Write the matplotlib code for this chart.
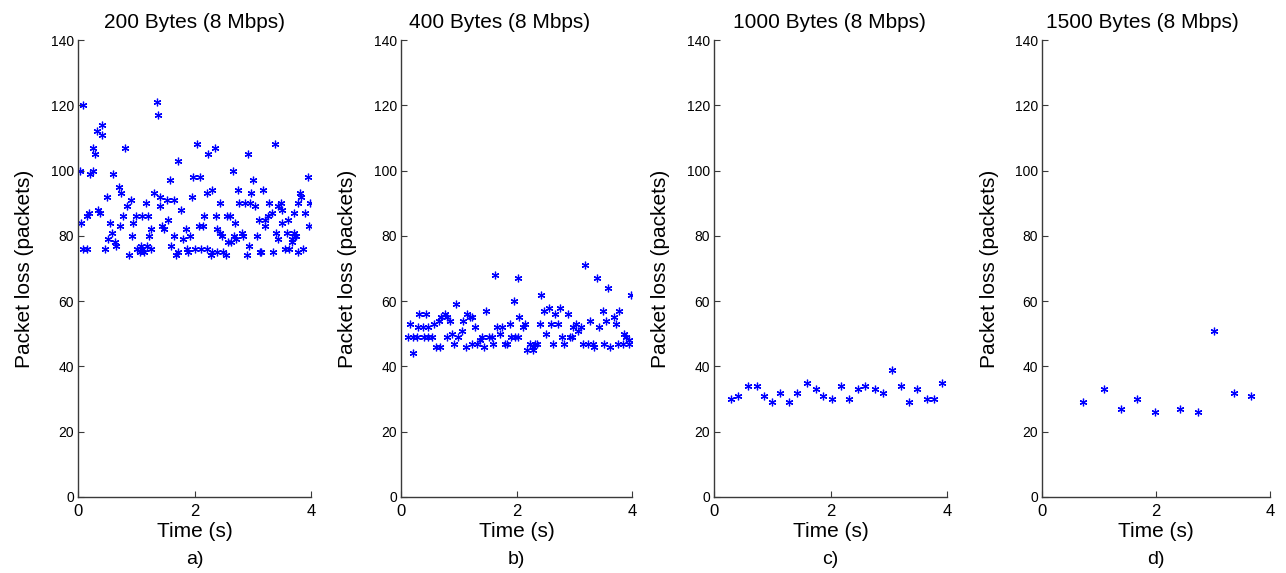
import numpy as np
import matplotlib
matplotlib.use("Agg")
import matplotlib.pyplot as plt

plt.rcParams['font.family'] = ['Liberation Sans', 'DejaVu Sans']

# Datos (tiempo en s, perdida en paquetes)
t200 = [0.09, 1.35, 1.37, 0.42, 0.33, 0.41, 0.25, 0.29, 0.81, 1.72, 0.03, 0.21, 0.26, 0.60,
        1.58, 0.70, 0.73, 0.49, 1.31, 1.41, 0.91, 1.16, 1.52, 1.64, 0.84, 1.40, 1.77, 0.35,
        0.38, 0.19, 0.15, 0.78, 1.00, 1.10, 1.21, 0.05, 0.55, 0.95, 1.54, 0.72, 1.44, 1.48,
        1.26, 1.85, 0.59, 0.93, 1.22, 1.65, 0.52, 0.64, 0.66, 1.81, 1.19, 1.60, 0.09, 0.15,
        0.46, 1.02, 1.06, 1.08, 1.10, 1.26, 1.14, 0.88, 1.72, 1.68, 1.89, 1.87,
        2.04, 2.35, 2.24, 2.91, 3.38, 2.66, 1.98, 2.09, 3.01, 3.95, 1.95, 2.21, 2.30, 2.75,
        2.97, 3.17, 3.81, 3.83, 2.44, 2.77, 2.86, 2.95, 3.04, 3.28, 3.44, 3.48, 3.51, 3.78,
        3.99, 3.70, 3.90, 3.33, 3.27, 3.21, 3.10, 2.17, 2.37, 2.56, 2.61, 3.61, 3.50, 2.70,
        2.07, 2.15, 3.21, 3.97, 2.38, 2.43, 2.47, 2.81, 2.84, 3.40, 3.58, 3.70, 3.73, 3.75,
        1.92, 2.68, 2.72, 2.58, 2.62, 3.08, 3.44, 3.67, 3.67, 2.94, 2.01, 2.12, 2.21, 2.30,
        2.38, 2.49, 2.54, 2.28, 2.90, 3.12, 3.15, 3.35, 3.55, 3.63, 3.77, 3.86]
p200 = [120, 121, 117, 114, 112, 111, 107, 105, 107, 103, 100, 99, 100, 99,
        97, 95, 93, 92, 93, 92, 91, 90, 91, 91, 89, 89, 88, 88,
        87, 87, 86, 86, 86, 86, 86, 84, 84, 84, 85, 83, 83, 82,
        82, 82, 81, 80, 80, 80, 79, 78, 77, 79, 77, 77, 76, 76,
        76, 76, 75, 77, 76, 76, 75, 74, 75, 74, 75, 76,
        108, 107, 105, 105, 108, 100, 98, 98, 97, 98, 92, 93, 94, 94,
        93, 94, 93, 92, 90, 90, 90, 90, 89, 90, 89, 90, 88, 90,
        90, 87, 87, 87, 86, 85, 85, 86, 86, 86, 86, 85, 84, 84,
        83, 83, 83, 83, 82, 81, 80, 81, 80, 81, 81, 81, 80, 80,
        80, 80, 79, 78, 78, 80, 79, 79, 78, 77, 76, 76, 76, 75,
        75, 75, 74, 74, 74, 75, 75, 75, 76, 76, 75, 76]

t400 = [0.16, 0.31, 0.44, 0.29, 0.38, 0.47, 0.12, 0.21, 0.27, 0.39, 0.47, 0.54, 0.20, 0.57,
        0.65, 0.70, 0.76, 0.79, 0.85, 0.60, 0.68, 0.96, 0.79, 0.88, 0.91, 0.99, 1.05, 1.08,
        1.15, 1.19, 1.23, 1.13, 1.28, 1.23, 1.31, 1.37, 1.40, 1.44, 1.47, 1.53, 1.57, 1.60,
        1.63, 1.67, 1.75, 1.72, 1.80, 1.83, 1.88, 1.90, 1.97, 2.02, 1.96, 2.03, 2.04,
        3.19, 3.40, 3.59, 3.99, 2.42, 2.14, 2.12, 2.48, 2.57, 2.75, 2.67, 2.89, 2.40, 2.60,
        2.72, 2.98, 3.03, 3.07, 3.12, 3.27, 3.43, 3.49, 3.55, 3.68, 3.72, 3.78, 2.51, 2.78,
        2.93, 2.96, 3.87, 3.90, 3.94, 2.23, 2.28, 2.32, 2.36, 2.19, 2.29, 2.64, 2.83, 3.16,
        3.24, 3.32, 3.34, 3.52, 3.62, 3.76, 3.85, 3.95]
p400 = [53, 56, 56, 52, 52, 52, 49, 49, 49, 49, 49, 49, 44, 53,
        54, 55, 56, 55, 54, 46, 46, 59, 49, 50, 47, 49, 51, 54,
        56, 55, 55, 46, 52, 47, 47, 48, 49, 46, 57, 49, 49, 47,
        68, 52, 52, 50, 47, 47, 53, 49, 49, 49, 60, 67, 55,
        71, 67, 64, 62, 62, 53, 52, 57, 58, 58, 56, 56, 53, 53,
        53, 52, 53, 51, 52, 54, 52, 57, 54, 55, 53, 57, 50, 49,
        49, 49, 50, 49, 48, 47, 46, 47, 47, 45, 45, 47, 47, 47,
        47, 47, 46, 47, 46, 47, 47, 47]

t1000 = [0.30, 0.42, 0.58, 0.74, 0.86, 1.00, 1.14, 1.29, 1.43, 1.59, 1.75, 1.87, 2.03,
         2.18, 2.32, 2.47, 2.60, 2.77, 2.90, 3.05, 3.21, 3.35, 3.49, 3.65, 3.77, 3.92]
p1000 = [30, 31, 34, 34, 31, 29, 32, 29, 32, 35, 33, 31, 30,
         34, 30, 33, 34, 33, 32, 39, 34, 29, 33, 30, 30, 35]

t1500 = [0.72, 1.09, 1.38, 1.66, 1.98, 2.42, 2.74, 3.02, 3.36, 3.66]
p1500 = [29, 33, 27, 30, 26, 27, 26, 51, 32, 31]

titulos = ["200 Bytes (8 Mbps)", "400 Bytes (8 Mbps)",
           "1000 Bytes (8 Mbps)", "1500 Bytes (8 Mbps)"]
letras = ["a)", "b)", "c)", "d)"]
series = [(t200, p200), (t400, p400), (t1000, p1000), (t1500, p1500)]

# posiciones de los ejes en pixeles (izq, der) y centro del titulo
W, H = 1286, 573
ejes = [(78, 311), (401, 632), (714, 947), (1042, 1270)]
centroTitulo = [194, 500, 829, 1142]
arriba, abajo = 40, 497


def main():
    fig = plt.figure(figsize=(W / 100, H / 100), dpi=100)
    for i, (izq, der) in enumerate(ejes):
        ax = fig.add_axes([izq / W, (H - abajo) / H, (der - izq) / W, (abajo - arriba) / H])
        t, p = series[i]
        ax.plot(t, p, linestyle="none", marker=(6, 2, 0), markersize=5.5,
                markeredgewidth=0.9, color="#0000ff")
        ax.set_xlim(0, 4)
        ax.set_ylim(0, 140)
        ax.set_xticks([0, 2, 4])
        ax.set_yticks(np.arange(0, 141, 20))
        for lado in ["top", "right"]:
            ax.spines[lado].set_visible(False)
        for lado in ["left", "bottom"]:
            ax.spines[lado].set_color("#3a3a3a")
            ax.spines[lado].set_linewidth(1.0)
        ax.tick_params(direction="in", length=4, color="#3a3a3a")
        ax.tick_params(axis="x", labelsize=12, pad=5)
        ax.tick_params(axis="y", labelsize=10, pad=3)
        xt = (centroTitulo[i] - izq) / (der - izq)
        ax.set_title(titulos[i], fontsize=15, pad=9, x=xt)
        ax.set_ylabel("Packet loss (packets)", fontsize=15)
        ax.yaxis.set_label_coords(-0.19, 0.5)
        ax.set_xlabel("Time (s)", fontsize=15)
        ax.xaxis.set_label_coords(0.5, -0.055)
        ax.text(0.5, -0.118, letras[i], transform=ax.transAxes, fontsize=14,
                ha="center", va="top")
    fig.savefig("out.png", dpi=100)


if __name__ == "__main__":
    main()
